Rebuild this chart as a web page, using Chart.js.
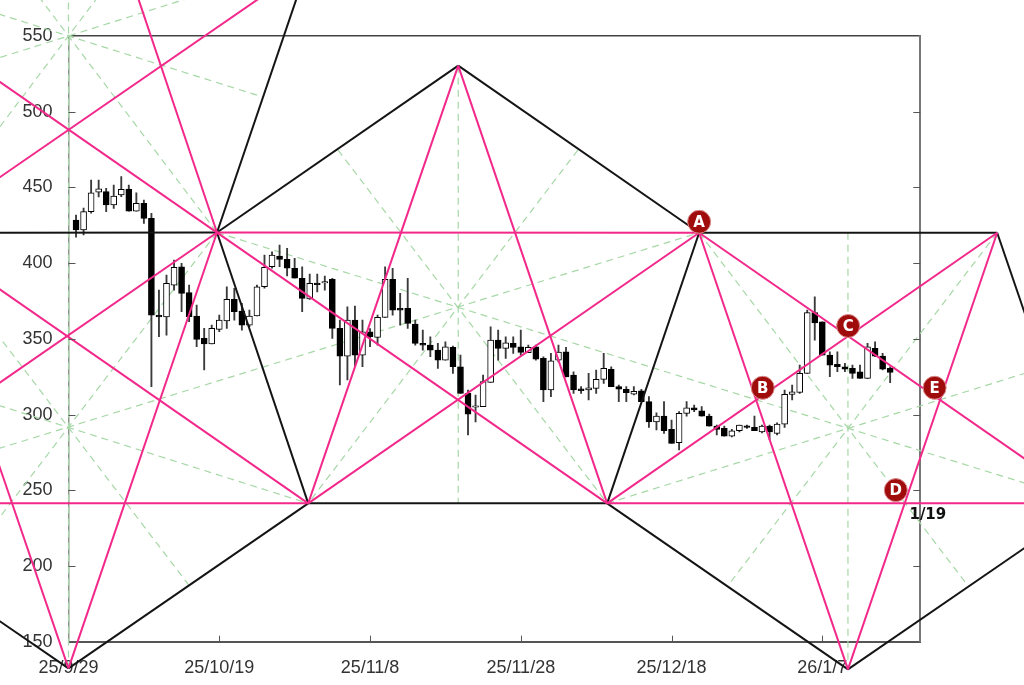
<!DOCTYPE html>
<html><head><meta charset="utf-8">
<script src="https://cdn.jsdelivr.net/npm/chart.js@4.4.1/dist/chart.umd.min.js"></script>
<style>html,body{margin:0;padding:0;background:#fff;}#wrap{width:1024px;height:685px;}</style>
</head><body><div id="wrap"><canvas id="c" width="1024" height="685"></canvas></div>
<script>
// x = days since 2025-09-29
const xTickValues = [0, 20, 40, 60, 80, 100];
const xTickLabels = ['25/9/29', '25/10/19', '25/11/8', '25/11/28', '25/12/18', '26/1/7'];
const yTickValues = [150, 200, 250, 300, 350, 400, 450, 500, 550];

const days = [1,2,3,4,5,6,7,8,9,10,11,12,13,14,15,16,17,18,19,20,21,22,23,24,25,26,27,28,29,30,
31,32,33,34,35,36,37,38,39,40,41,42,43,44,45,46,47,48,49,50,51,52,53,54,55,56,57,58,59,60,
61,62,63,64,65,66,67,68,69,70,71,72,73,74,75,76,77,78,79,80,81,82,83,84,85,86,87,88,89,90,
91,92,93,94,95,96,97,98,99,100,101,102,103,104,105,106,107,108,109];
const openV = [428.5,421.9,434.0,446.8,447.2,438.4,445.0,448.9,434.4,439.5,429.6,365.7,364.4,385.5,397.6,380.5,365.1,350.3,346.6,356.3,
361.8,376.1,368.4,359.1,365.1,384.4,397.6,404.7,402.5,396.6,390.0,376.3,386.9,386.9,389.3,356.9,338.6,362.4,339.3,354.7,
351.0,364.2,389.3,370.2,370.2,359.8,347.0,345.9,342.6,336.0,344.4,331.6,314.0,304.8,305.2,321.3,349.2,343.7,347.0,344.8,
340.8,344.8,337.1,316.2,336.0,341.5,326.1,317.0,316.2,317.3,323.2,329.9,318.4,316.7,313.5,315.7,308.5,295.2,299.0,290.2,
281.4,300.8,304.5,302.5,299.0,292.4,290.9,285.8,289.3,292.4,291.5,288.6,292.4,287.6,293.7,313.3,314.7,327.2,367.3,361.3,
339.3,333.2,331.6,330.5,328.3,323.9,343.7,338.6,330.5];
const highV = [431.8,436.4,454.9,454.9,449.4,451.6,457.1,451.6,446.5,441.7,432.9,382.2,392.1,402.0,399.9,385.5,372.3,356.9,359.1,365.7,
384.4,383.4,373.4,369.0,385.5,405.3,407.5,412.0,409.8,403.2,397.6,392.8,392.8,391.5,390.0,362.4,371.2,371.7,362.4,356.7,
365.7,397.6,396.6,380.0,390.0,362.4,355.8,351.4,347.0,348.1,345.3,339.3,316.2,312.9,326.1,358.0,355.8,351.4,351.4,355.8,
345.9,345.9,338.2,340.4,345.9,344.4,328.3,318.4,327.2,329.4,340.4,331.6,319.5,318.4,318.4,316.6,311.8,301.2,308.5,296.4,
301.9,308.5,306.3,305.2,300.3,293.1,292.4,290.2,293.1,293.1,299.0,293.1,293.1,294.6,316.2,319.5,332.7,369.0,377.8,361.3,
341.5,341.5,333.8,332.7,332.7,347.0,348.1,340.4,331.6];
const lowV = [417.2,418.6,433.0,443.7,434.0,436.2,443.9,434.4,434.4,426.3,318.4,351.4,352.5,382.2,367.9,361.3,344.8,329.4,346.6,354.7,
356.9,362.4,355.8,358.0,365.1,383.4,396.6,397.6,391.5,390.0,367.9,376.1,381.0,382.2,350.3,319.5,322.8,331.6,331.6,344.8,
345.9,364.2,365.7,359.1,356.9,345.9,342.6,338.2,330.5,336.0,327.2,314.0,286.5,295.2,305.2,321.3,336.0,337.1,340.4,339.3,
340.8,336.0,308.5,311.8,334.7,324.9,314.0,314.0,309.6,314.0,320.6,318.4,308.5,308.5,313.0,308.5,291.5,289.8,287.6,281.0,
276.6,299.0,301.9,299.0,292.4,286.5,285.8,285.3,288.6,290.9,289.3,287.9,283.6,286.5,291.5,309.6,314.0,327.2,349.2,339.3,
325.0,328.3,328.3,323.9,323.9,323.9,338.2,329.4,321.0];
const closeV = [421.9,434.0,446.5,449.1,438.4,444.3,448.7,434.4,439.5,429.6,365.7,364.4,386.7,397.2,380.0,364.6,349.7,346.6,356.9,362.4,
376.1,367.9,359.1,365.1,384.4,397.2,405.3,402.5,396.6,390.0,376.7,386.7,385.8,387.7,356.9,338.6,362.4,339.3,354.7,351.4,
364.2,389.3,369.0,369.0,360.2,347.0,345.9,342.6,336.0,344.8,331.6,314.0,300.3,305.8,321.7,349.2,343.7,347.4,344.4,341.1,
344.4,336.5,316.2,335.5,341.3,324.9,316.2,315.7,317.7,323.2,330.5,318.4,316.7,314.4,315.3,308.5,295.2,299.0,289.3,281.0,
300.8,304.5,303.0,299.0,292.4,290.2,285.8,289.3,293.1,291.5,289.3,292.4,288.6,293.7,313.3,315.0,327.2,367.3,360.6,339.3,
332.7,331.6,329.9,327.2,323.9,344.8,338.6,329.9,327.9];

// overlay lines, each [x1, y1, x2, y2] in (day, price)
const pinkSegments = [
  [0,132.4, 19.7,420.2], [19.7,420.2, 8.2,590.3], [-10.81,525.6, 71.46,241.35],
  [-10.81,315.2, 19.7,420.2], [-10.81,450.9, 26.72,579.7], [-10.81,388.6, 31.8,241.35],
  [31.8,241.35, 51.7,530.4], [51.7,530.4, 71.46,241.35], [31.8,241.35, 83.66,420.1],
  [71.46,241.35, 123.2,420.1], [83.66,420.1, 103.4,131.7], [83.66,420.1, 128.85,263.9],
  [103.4,131.7, 123.2,420.1], [-10.81,289.8, 0,132.4], [19.7,420.2, 83.66,420.1],
  [-10.81,241.35, 31.8,241.35], [71.46,241.35, 128.85,241.35]
];
const blackSegments = [
  [-10.81,420.1, 19.7,420.2], [19.7,420.2, 31.5,593.0], [19.7,420.2, 51.7,530.4],
  [51.7,530.4, 83.66,420.1], [31.8,241.35, 19.7,420.2], [31.8,241.35, 71.46,241.35],
  [71.46,241.35, 83.66,420.1], [83.66,420.1, 123.2,420.1], [123.2,420.1, 128.85,338.0],
  [31.8,241.35, 0,132.4], [0,132.4, -10.81,169.3], [71.46,241.35, 103.4,131.7],
  [103.4,131.7, 128.85,218.8]
];
const greenSegments = [
  [0,580, 0,132.4], [-4.92,582.4, 19.7,420.2], [4.91,582.4, -10.81,478.8],
  [-10.81,566.9, 25.8,509.7], [20.7,582.4, -10.81,533.1], [-10.81,221.2, 19.7,420.2],
  [16.0,187.1, -10.81,361.9], [-10.81,308.5, 31.8,241.35], [-10.81,275.2, 83.66,420.1],
  [51.7,530.4, 51.7,241.35], [19.7,420.2, 128.85,251.65], [35.76,474.7, 71.46,241.35],
  [67.57,474.7, 31.8,241.35], [103.4,420.1, 103.4,131.7], [83.66,420.1, 119.4,186.4],
  [123.2,420.1, 87.42,186.6], [71.46,241.35, 128.85,330.3]
];

const markerLabels = ['A', 'B', 'C', 'D', 'E'];
const markerX = [83.66, 92.1, 103.43, 109.75, 114.9];
const markerY = [427.3, 317.7, 358.5, 250.1, 317.7];
const dateNote = '1/19';
const dateNoteX = 114.0;
const dateNoteY = 233.6;

const PINK = '#f2288a', BLACK = '#141414', GREEN = '#a6d8a6';

function segDatasets(segs, color, width, dash, order) {
  return segs.map(s => ({
    type: 'line', data: [{x: s[0], y: s[1]}, {x: s[2], y: s[3]}],
    borderColor: color, borderWidth: width, borderDash: dash, pointRadius: 0,
    fill: false, tension: 0, clip: false, order: order
  }));
}

const datasets = [];
datasets.push(...segDatasets(pinkSegments, PINK, 2, [], 0));
datasets.push(...segDatasets(blackSegments, BLACK, 2, [], 1));
datasets.push({
  type: 'bar', data: days.map((d, i) => ({x: d, y: [openV[i], closeV[i]]})),
  backgroundColor: days.map((d, i) => closeV[i] >= openV[i] ? '#ffffff' : '#000000'),
  borderColor: '#000', borderWidth: 1, borderSkipped: false, barThickness: 6,
  minBarLength: 1.5, grouped: false, order: 2
});
datasets.push({
  type: 'bar', data: days.map((d, i) => ({x: d, y: [lowV[i], highV[i]]})),
  backgroundColor: '#3a3a3a', borderWidth: 0, barThickness: 1.2, grouped: false, order: 3
});
datasets.push(...segDatasets(greenSegments, GREEN, 1.2, [7, 5], 4));

const decor = {
  id: 'decor',
  afterDatasetsDraw(chart) {
    const ctx = chart.ctx, xs = chart.scales.x, ys = chart.scales.y;
    const a = chart.chartArea;
    ctx.save();
    ctx.strokeStyle = '#555'; ctx.lineWidth = 1;
    yTickValues.forEach(v => {
      if (v === 150 || v === 550) return;
      const y = Math.round(ys.getPixelForValue(v)) + 0.5;
      ctx.beginPath(); ctx.moveTo(a.left, y); ctx.lineTo(a.left + 7, y); ctx.stroke();
      ctx.beginPath(); ctx.moveTo(a.right - 7, y); ctx.lineTo(a.right, y); ctx.stroke();
    });
    xTickValues.forEach(v => {
      if (v === 0) return;
      const x = Math.round(xs.getPixelForValue(v)) + 0.5;
      ctx.beginPath(); ctx.moveTo(x, a.bottom); ctx.lineTo(x, a.bottom - 6); ctx.stroke();
    });
    // point markers A-E
    ctx.textAlign = 'center'; ctx.textBaseline = 'middle';
    markerX.forEach((mx, i) => {
      const px = xs.getPixelForValue(mx), py = ys.getPixelForValue(markerY[i]);
      ctx.beginPath(); ctx.arc(px, py, 11.5, 0, Math.PI * 2);
      ctx.fillStyle = '#a00c0c'; ctx.fill();
      ctx.lineWidth = 1; ctx.strokeStyle = '#d98a8a'; ctx.stroke();
      ctx.fillStyle = '#fff';
      ctx.font = 'bold 15px "DejaVu Sans"';
      ctx.fillText(markerLabels[i], px, py + 1);
    });
    ctx.fillStyle = '#111';
    ctx.font = 'bold 15px "DejaVu Sans"';
    ctx.fillText(dateNote, xs.getPixelForValue(dateNoteX), ys.getPixelForValue(dateNoteY));
    ctx.restore();
  }
};

const tickFont = {family: '"Liberation Sans", Arial, sans-serif', size: 18};
new Chart(document.getElementById('c'), {
  type: 'bar',
  data: {datasets: datasets},
  options: {
    responsive: false, devicePixelRatio: 1, animation: false,
    layout: {padding: {top: 36, right: 103.7, left: 0, bottom: 0}},
    plugins: {legend: {display: false}, tooltip: {enabled: false}},
    scales: {
      x: {
        type: 'linear', min: 0, max: 113, position: 'bottom', offset: false,
        afterFit(s) { s.height = 43.3; },
        grid: {display: false, drawTicks: false, offset: false},
        border: {display: true, color: '#555', width: 2},
        ticks: {
          stepSize: 20, includeBounds: false, autoSkip: false, maxRotation: 0, minRotation: 0,
          padding: 16, font: tickFont, color: '#333',
          callback(v) { const i = xTickValues.indexOf(v); return i >= 0 ? xTickLabels[i] : ''; }
        }
      },
      y: {
        type: 'linear', min: 150, max: 550, position: 'left',
        afterFit(s) { s.width = 68.5; },
        grid: {display: false, drawTicks: false},
        border: {display: true, color: '#8c958c', width: 1.5},
        ticks: {stepSize: 50, padding: 16, font: tickFont, color: '#333'}
      },
      x2: {
        type: 'linear', min: 0, max: 113, position: 'top', offset: false,
        afterFit(s) { s.height = 0; },
        grid: {display: false, drawTicks: false, offset: false},
        border: {display: true, color: '#444', width: 1.5},
        ticks: {display: false}
      },
      y2: {
        type: 'linear', min: 150, max: 550, position: 'right',
        afterFit(s) { s.width = 0; },
        grid: {display: false, drawTicks: false},
        border: {display: true, color: '#777', width: 2},
        ticks: {display: false}
      }
    }
  },
  plugins: [decor]
});
</script></body></html>
